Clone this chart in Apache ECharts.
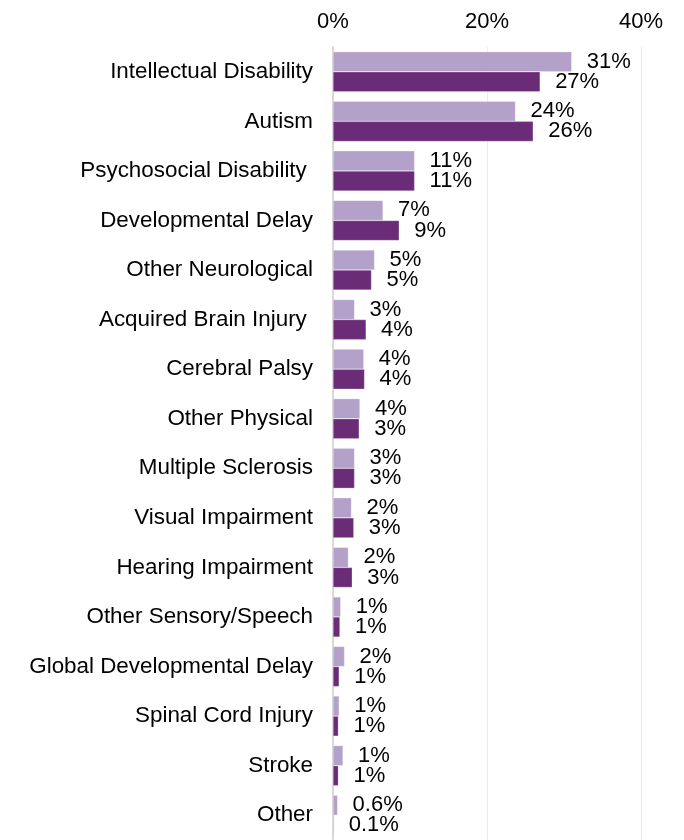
<!DOCTYPE html>
<html>
<head>
<meta charset="utf-8">
<script src="https://cdn.jsdelivr.net/npm/echarts@6/dist/echarts.min.js"></script>
<style>
  html, body { margin: 0; padding: 0; background: #fff; }
  #chart { width: 684px; height: 840px; }
</style>
</head>
<body>
<div id="chart"></div>
<script>
const categories = [
  'Intellectual Disability', 'Autism', 'Psychosocial Disability ', 'Developmental Delay',
  'Other Neurological', 'Acquired Brain Injury ', 'Cerebral Palsy', 'Other Physical',
  'Multiple Sclerosis', 'Visual Impairment', 'Hearing Impairment', 'Other Sensory/Speech',
  'Global Developmental Delay', 'Spinal Cord Injury', 'Stroke', 'Other'
]
const lightValues = [31.0, 23.7, 10.6, 6.5, 5.4, 2.8, 4.0, 3.5, 2.8, 2.4, 2.0, 1.0, 1.5, 0.8, 1.3, 0.6]
const lightLabels = ['31%', '24%', '11%', '7%', '5%', '3%', '4%', '4%', '3%', '2%', '2%', '1%', '2%', '1%', '1%', '0.6%']
const darkValues = [26.9, 26.0, 10.6, 8.6, 5.0, 4.3, 4.1, 3.4, 2.8, 2.7, 2.5, 0.9, 0.8, 0.7, 0.7, 0.1]
const darkLabels = ['27%', '26%', '11%', '9%', '5%', '4%', '4%', '3%', '3%', '3%', '3%', '1%', '1%', '1%', '1%', '0.1%']
const xTicks = [0, 20, 40]

const font = 'Liberation Sans, Arial, sans-serif'
const chart = echarts.init(document.getElementById('chart'))

function barSeries(name, values, labels, color) {
  return {
    name,
    type: 'bar',
    data: values,
    barGap: '0%',
    barCategoryGap: '19%',
    itemStyle: { color, borderColor: 'rgba(255,255,255,0.5)', borderWidth: 0.5 },
    label: {
      show: true,
      position: 'right',
      distance: 15,
      color: '#000',
      fontFamily: font,
      fontSize: 22,
      formatter: p => labels[p.dataIndex],
    },
  }
}

chart.setOption({
  animation: false,
  grid: { top: 47, left: 333, right: 43, bottom: 0 },
  xAxis: {
    type: 'value',
    position: 'top',
    min: xTicks[0],
    max: xTicks[xTicks.length - 1],
    interval: 20,
    axisLine: { show: false },
    axisTick: { show: false },
    splitLine: { lineStyle: { color: '#ececec', width: 1 } },
    axisLabel: {
      color: '#000',
      fontFamily: font,
      fontSize: 22,
      margin: 14,
      formatter: '{value}%',
    },
  },
  yAxis: {
    type: 'category',
    data: categories,
    inverse: true,
    axisLine: { show: true, lineStyle: { color: '#d9d9d9', width: 2 } },
    axisTick: { show: false },
    axisLabel: {
      color: '#000',
      fontFamily: font,
      fontSize: 22.4,
      margin: 20,
    },
  },
  series: [
    barSeries('Light', lightValues, lightLabels, '#b3a1c9'),
    barSeries('Dark', darkValues, darkLabels, '#6b2c77'),
  ],
})
</script>
</body>
</html>
